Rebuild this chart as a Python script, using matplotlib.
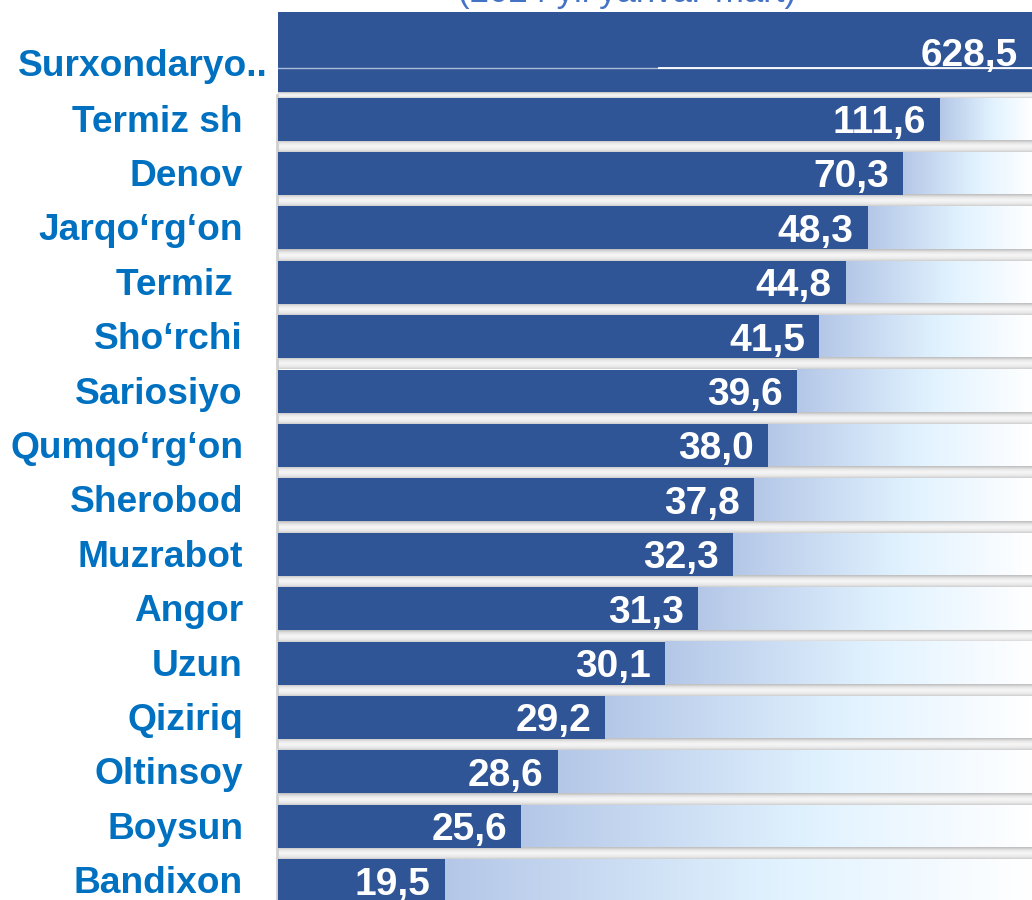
import numpy as np
import matplotlib
matplotlib.use("Agg")
import matplotlib.pyplot as plt
from matplotlib.colors import LinearSegmentedColormap

# ---- data ----
categories = ["Surxondaryo..", "Termiz sh", "Denov", "Jarqo\u2018rg\u2018on", "Termiz ",
              "Sho\u2018rchi", "Sariosiyo", "Qumqo\u2018rg\u2018on", "Sherobod", "Muzrabot",
              "Angor", "Uzun", "Qiziriq", "Oltinsoy", "Boysun", "Bandixon"]
values = [628.5, 111.6, 70.3, 48.3, 44.8, 41.5, 39.6, 38.0, 37.8, 32.3,
          31.3, 30.1, 29.2, 28.6, 25.6, 19.5]
# displayed bar length (% of the plotting width) as drawn in the original
bar_lengths = [101.0, 87.8, 82.9, 78.2, 75.3, 71.8, 68.8, 65.0, 63.1, 60.3,
               55.7, 51.3, 43.4, 37.1, 32.2, 22.1]
value_labels = [f"{v:.1f}".replace(".", ",") for v in values]
subtitle = "(2024 yil yanvar-mart)"

# ---- style ----
W, H = 1032, 900
plt.rcParams['font.family'] = ['Liberation Sans', 'DejaVu Sans']
BAR = "#2F5597"
LABEL = "#0070C0"

fig = plt.figure(figsize=(W / 100, H / 100), dpi=100)
fig.patch.set_facecolor("white")
x0_px = 278
ax = fig.add_axes([x0_px / W, 0, 1 - x0_px / W, 1])
ax.set_axis_off()

pitch = 54.4           # px between row centres
row1_px = 119          # centre of first regular row (px from top)
def py(p):             # pixel-from-top -> data y
    return 1 + (p - row1_px) / pitch

h = 43 / pitch
ylim = (py(H), py(0))

bg_cmap = LinearSegmentedColormap.from_list(
    "bg", [(0, "#B4C7E7"), (0.58, "#E2F3FF"), (1.0, "#FFFFFF")])
gap_cmap = LinearSegmentedColormap.from_list(
    "gap", [(0, "#BDBDBD"), (0.25, "#E6E6E6"), (0.5, "#F7F7F7"), (0.8, "#EAEAEA"), (1.0, "#CFCFCF")])
grad_h = np.linspace(0, 1, 256).reshape(1, -1)
grad_v = np.linspace(0, 1, 64).reshape(-1, 1)

VAL_FS = 28
CAT_FS = 26.7

n = len(categories)
# top (total) bar
top_y0, top_y1 = py(12), py(92)
ax.barh((top_y0 + top_y1) / 2, bar_lengths[0], height=top_y1 - top_y0,
        left=0, color=BAR, zorder=3)
ax.plot([0, 100], [py(68), py(68)], color="white", lw=1.0, alpha=0.6, zorder=4)
ax.plot([50.5, 100], [py(68), py(68)], color="white", lw=1.3, zorder=4)
ax.text(bar_lengths[0] - 100 * 22 / (W - x0_px), py(52), value_labels[0],
        ha="right", va="center_baseline", color="white", fontsize=VAL_FS,
        fontweight="bold", zorder=5)
fig.text(x0_px / W - 10 / W, 1 - 63 / H, categories[0], ha="right", va="center_baseline",
         color=LABEL, fontsize=CAT_FS, fontweight="bold")

# gap under top bar
ax.imshow(grad_v, cmap=gap_cmap, aspect="auto", extent=(0, 100, 1 - h / 2, top_y1),
          origin="upper", zorder=1)

for i in range(1, n):
    y = i
    L = bar_lengths[i]
    # gradient background to the right of the bar
    ax.imshow(grad_h, cmap=bg_cmap, aspect="auto",
              extent=(L, 100, y + h / 2, y - h / 2), origin="upper", zorder=1)
    # gap / shadow band below the row
    ax.imshow(grad_v, cmap=gap_cmap, aspect="auto",
              extent=(0, 100, y + 1 - h / 2, y + h / 2), origin="upper", zorder=1)
    ax.barh(y, L, height=h, left=0, color=BAR, zorder=3)
    ax.text(L - 100 * 14 / (W - x0_px), y, value_labels[i], ha="right",
            va="center_baseline", color="white", fontsize=VAL_FS, fontweight="bold", zorder=5)
    fig.text(243 / W, 1 - (row1_px - 1 + (i - 1) * pitch) / H, categories[i], ha="right",
             va="center_baseline", color=LABEL, fontsize=CAT_FS, fontweight="bold")

# thin grey left border
ax.plot([-0.15, -0.15], [py(95), py(H)], color="#D0D0D0", lw=2, zorder=2, clip_on=False)

ax.set_xlim(0, 100)
ax.set_ylim(*ylim)

fig.text(627 / W, 1 - 2 / H, subtitle, ha="center", va="baseline",
         color="#4472C4", fontsize=25)

fig.savefig("out.png", dpi=100, facecolor="white")
